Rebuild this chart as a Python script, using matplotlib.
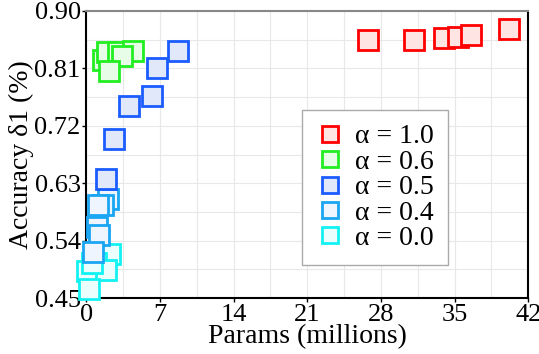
import matplotlib.pyplot as plt
from matplotlib.ticker import MultipleLocator

plt.rcParams['font.family'] = ['Liberation Serif', 'DejaVu Serif']

# params (millions) and accuracy for each alpha group
p_10 = [26.8, 31.1, 34.0, 35.3, 36.6, 40.2]
a_10 = [0.855, 0.855, 0.858, 0.859, 0.862, 0.872]

p_06 = [1.6, 1.97, 3.04, 4.47, 3.4, 2.2]
a_06 = [0.823, 0.836, 0.836, 0.837, 0.829, 0.806]

p_05 = [8.72, 6.72, 6.25, 4.09, 2.63, 1.87]
a_05 = [0.838, 0.811, 0.767, 0.751, 0.699, 0.636]

p_04 = [2.06, 1.59, 1.11, 1.02, 1.26, 0.67]
a_04 = [0.606, 0.596, 0.596, 0.562, 0.549, 0.522]

p_00 = [2.28, 0.07, 0.95, 1.9, 0.22, 0.5]
a_00 = [0.519, 0.492, 0.505, 0.494, 0.464, 0.505]

groups = [
    (p_10, a_10, '#ff0000', '#ffe4e4', 'α = 1.0'),
    (p_06, a_06, '#22ee22', '#e8fde8', 'α = 0.6'),
    (p_05, a_05, '#1a5cff', '#e1e8fa', 'α = 0.5'),
    (p_04, a_04, '#1aa6f2', '#eef5ff', 'α = 0.4'),
    (p_00, a_00, '#12f2f2', '#eafefe', 'α = 0.0'),
]

fig = plt.figure(figsize=(5.39, 3.54), dpi=100)
ax = fig.add_axes([0.16, 0.158, 0.82, 0.811])

# draw in reverse so alpha=1.0 ends up on top like the original
for p, a, ec, fc, lab in groups[::-1]:
    ax.plot(p, a, 's', ms=14, mec=ec, mfc=fc, mew=2, label=lab, zorder=3, clip_on=False)

ax.set_xlim(0, 42)
ax.set_ylim(0.45, 0.90)
ax.xaxis.set_major_locator(MultipleLocator(7))
ax.xaxis.set_minor_locator(MultipleLocator(3.5))
ax.yaxis.set_major_locator(MultipleLocator(0.09))
ax.yaxis.set_minor_locator(MultipleLocator(0.045))
ax.set_yticklabels([f'{v:.2f}' for v in ax.get_yticks()])
ax.grid(True, which='both', color='#e8e8e8', lw=0.8, zorder=0)
ax.set_axisbelow(True)
ax.tick_params(which='major', direction='out', length=3, width=1, labelsize=19, pad=1)
ax.tick_params(which='minor', length=0)

for s in ['left', 'bottom', 'right']:
    ax.spines[s].set_linewidth(1.5)
    ax.spines[s].set_color('black')
ax.spines['top'].set_color('#888888')
ax.spines['top'].set_linewidth(1.5)

ax.set_xlabel('Params (millions)', fontsize=20, labelpad=-1)
ax.set_ylabel('Accuracy δ1 (%)', fontsize=20, labelpad=0)

h, l = ax.get_legend_handles_labels()
leg = ax.legend(h[::-1], l[::-1], loc='upper left', bbox_to_anchor=(0.489, 0.655),
                borderaxespad=0, fontsize=20, fancybox=False, edgecolor='#aaaaaa',
                framealpha=1, handlelength=1.0, handletextpad=0.4, labelspacing=0.0,
                markerscale=0.85, borderpad=0.5)
leg.get_frame().set_linewidth(1)

fig.savefig('out.png', dpi=100)
